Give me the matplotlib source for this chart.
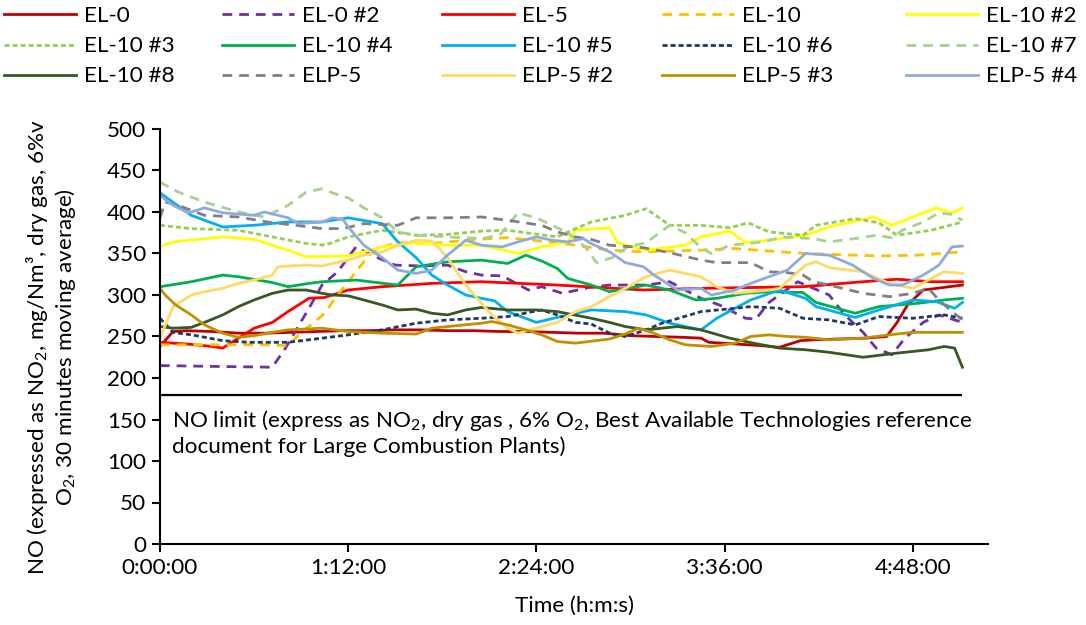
import matplotlib
matplotlib.use("Agg")
import matplotlib.pyplot as plt

plt.rcParams["font.family"] = ["Lato", "DejaVu Sans"]
plt.rcParams["mathtext.fontset"] = "custom"
plt.rcParams["mathtext.rm"] = "Lato"
plt.rcParams["mathtext.it"] = "Lato:italic"
plt.rcParams["mathtext.bf"] = "Lato:bold"

# time in minutes from start, NO in mg/Nm3 (30 min moving average)
t_el0 = [0, 5, 10, 20, 30, 40, 50, 60, 70, 80, 90, 100, 110, 120, 130, 140, 150, 160, 170, 180, 190, 200, 207, 210,
         220, 230, 237, 245, 250, 260, 270, 278, 282, 286, 292, 297, 307]
v_el0 = [238, 256, 257, 256, 254, 254, 255, 256, 257, 257, 258, 258, 257, 257, 256, 256, 255, 254, 254, 251, 250, 249,
         248, 243, 241, 239, 237, 245, 246, 247, 248, 250, 267, 288, 306, 308, 312]

t_el0_2 = [0, 20, 43, 48, 57, 62, 68, 75, 81, 90, 100, 110, 117, 123, 131, 141, 146, 154, 164, 172, 186, 195, 207, 214,
           224, 228, 233, 244, 256, 262, 269, 274, 280, 285, 292, 298, 307]
v_el0_2 = [215, 214, 213, 236, 284, 312, 328, 358, 348, 336, 335, 336, 328, 324, 323, 306, 310, 302, 309, 312, 312, 316,
           296, 288, 272, 271, 291, 316, 300, 276, 255, 236, 228, 248, 267, 276, 267]

t_el5 = [0, 10, 20, 24, 30, 36, 43, 49, 57, 63, 72, 85, 104, 123, 152, 185, 207, 246, 269, 282, 295, 307]
v_el5 = [243, 241, 238, 236, 248, 260, 267, 280, 296, 297, 306, 310, 314, 316, 312, 306, 308, 310, 316, 319, 316, 316]

t_el10 = [0, 20, 40, 49, 54, 59, 63, 67, 72, 76, 80, 85, 91, 104, 121, 133, 152, 172, 185, 207, 220, 233, 247, 275,
          290, 307]
v_el10 = [240, 240, 240, 239, 255, 267, 278, 296, 316, 332, 348, 358, 363, 362, 367, 369, 363, 354, 352, 354, 356, 353,
          350, 347, 348, 352]

t_el10_2 = [0, 5, 24, 36, 49, 56, 72, 85, 98, 110, 123, 137, 146, 156, 159, 172, 175, 186, 201, 207, 218, 224, 233,
            247, 256, 273, 280, 288, 297, 303, 307]
v_el10_2 = [358, 364, 370, 367, 354, 346, 347, 358, 363, 360, 360, 350, 358, 364, 378, 381, 363, 354, 360, 370, 377,
            363, 366, 372, 382, 394, 384, 394, 405, 399, 405]

t_el10_3 = [0, 12, 30, 43, 56, 63, 72, 85, 98, 110, 123, 133, 152, 159, 165, 178, 186, 195, 207, 218, 225, 233, 246,
            251, 266, 275, 282, 295, 307]
v_el10_3 = [384, 380, 378, 370, 362, 360, 370, 378, 372, 373, 377, 378, 370, 380, 388, 396, 404, 384, 384, 381, 387,
            376, 372, 384, 392, 387, 372, 378, 388]

t_el10_4 = [0, 12, 24, 30, 43, 49, 57, 62, 75, 91, 98, 110, 123, 133, 140, 146, 152, 156, 165, 172, 186, 195, 205,
            213, 224, 233, 246, 251, 266, 275, 290, 300, 307]
v_el10_4 = [310, 316, 324, 322, 315, 310, 314, 316, 318, 312, 334, 340, 342, 338, 348, 341, 332, 320, 312, 304, 312,
            306, 294, 296, 302, 304, 303, 291, 278, 286, 290, 294, 296]

t_el10_5 = [0, 12, 24, 36, 49, 62, 72, 85, 91, 98, 104, 110, 117, 123, 128, 133, 144, 152, 165, 178, 186, 195, 207,
            213, 220, 226, 237, 247, 251, 266, 275, 288, 297, 304, 307]
v_el10_5 = [423, 396, 382, 384, 388, 388, 393, 386, 364, 345, 324, 312, 300, 296, 293, 280, 267, 273, 282, 280, 276,
            266, 258, 272, 284, 294, 306, 296, 286, 273, 282, 294, 292, 284, 291]

t_el10_6 = [0, 5, 12, 24, 34, 49, 62, 72, 85, 98, 110, 123, 133, 146, 152, 159, 165, 172, 178, 186, 192, 207, 220,
            226, 237, 246, 256, 266, 275, 288, 300, 307]
v_el10_6 = [272, 255, 252, 245, 243, 243, 248, 252, 258, 266, 270, 272, 274, 282, 276, 267, 265, 254, 250, 258, 266,
            280, 284, 286, 284, 272, 270, 264, 274, 272, 276, 272]

t_el10_7 = [0, 7, 17, 30, 40, 49, 56, 62, 66, 72, 78, 85, 91, 98, 110, 123, 130, 137, 144, 150, 156, 163, 167, 173,
            179, 186, 195, 201, 207, 211, 218, 225, 231, 238, 250, 256, 266, 274, 280, 284, 292, 298, 303, 307]
v_el10_7 = [436, 424, 412, 400, 394, 408, 424, 428, 423, 417, 405, 393, 376, 372, 370, 368, 372, 399, 393, 384, 375,
            357, 339, 345, 358, 363, 384, 375, 357, 350, 360, 362, 364, 370, 368, 364, 368, 372, 369, 378, 388, 399,
            397, 390]

t_el10_8 = [0, 5, 12, 17, 24, 30, 36, 43, 49, 56, 62, 66, 72, 78, 85, 91, 98, 104, 110, 117, 123, 133, 144, 152, 165,
            172, 178, 186, 198, 207, 218, 227, 237, 247, 256, 269, 282, 294, 300, 304, 307]
v_el10_8 = [262, 260, 261, 267, 276, 286, 294, 302, 306, 306, 302, 300, 299, 294, 288, 282, 283, 278, 276, 282, 285,
            282, 282, 280, 272, 267, 262, 258, 262, 258, 248, 242, 236, 234, 231, 225, 230, 234, 238, 236, 213]

t_elp5 = [0, 2, 7, 12, 17, 30, 43, 52, 62, 70, 78, 91, 98, 110, 123, 133, 146, 152, 159, 165, 172, 185, 195, 207, 213,
          226, 233, 240, 246, 250, 256, 269, 279, 288, 294, 298, 303, 307]
v_elp5 = [393, 412, 408, 402, 396, 394, 387, 384, 380, 380, 386, 384, 393, 393, 394, 390, 384, 376, 370, 367, 360, 357,
          351, 342, 339, 339, 328, 327, 324, 316, 312, 302, 298, 302, 308, 294, 280, 270]

t_elp5_2 = [0, 5, 12, 17, 24, 30, 36, 43, 45, 55, 62, 72, 78, 85, 91, 98, 104, 108, 110, 117, 123, 127, 133, 137, 146,
            152, 159, 165, 172, 178, 186, 195, 201, 207, 213, 220, 233, 237, 247, 251, 256, 269, 279, 288, 294, 300,
            307]
v_elp5_2 = [248, 286, 300, 304, 308, 314, 318, 324, 334, 336, 335, 342, 348, 352, 360, 366, 365, 352, 345, 312, 290,
            276, 260, 254, 262, 267, 280, 286, 298, 308, 322, 330, 326, 322, 310, 302, 306, 308, 336, 340, 333, 328,
            314, 308, 318, 328, 326]

t_elp5_3 = [0, 2, 6, 12, 17, 24, 30, 36, 43, 49, 62, 72, 85, 98, 104, 110, 123, 127, 133, 140, 146, 152, 159, 172,
            178, 183, 189, 195, 201, 211, 220, 226, 233, 240, 247, 256, 269, 279, 288, 307]
v_elp5_3 = [308, 300, 288, 276, 264, 254, 249, 251, 255, 258, 260, 256, 254, 253, 260, 262, 266, 268, 264, 258, 252,
            244, 242, 247, 253, 260, 254, 246, 240, 238, 242, 250, 252, 250, 249, 246, 248, 252, 255, 255]

t_elp5_4 = [0, 5, 11, 17, 24, 36, 40, 49, 53, 62, 66, 70, 72, 78, 85, 91, 98, 104, 110, 117, 123, 131, 137, 144, 150,
            156, 162, 165, 172, 178, 185, 189, 198, 207, 211, 220, 226, 233, 240, 247, 256, 265, 273, 279, 284, 292,
            298, 303, 307]
v_elp5_4 = [420, 408, 399, 405, 399, 396, 400, 393, 386, 388, 393, 391, 382, 360, 345, 330, 326, 330, 348, 366, 360,
            358, 364, 370, 366, 364, 368, 362, 352, 339, 334, 324, 306, 308, 300, 306, 314, 322, 330, 350, 348, 336,
            320, 312, 312, 324, 336, 358, 359]

no_limit = 180
x_ticks = [0, 72, 144, 216, 288]
y_ticks = list(range(0, 501, 50))

LONG = (3.5, 2.5)
SHORT = (1.8, 1.1)
series = [
    ("EL-0", t_el0, v_el0, "#C00000", None),
    ("EL-0 #2", t_el0_2, v_el0_2, "#7030A0", LONG),
    ("EL-5", t_el5, v_el5, "#FF0000", None),
    ("EL-10", t_el10, v_el10, "#FFC000", LONG),
    ("EL-10 #2", t_el10_2, v_el10_2, "#FFFF00", None),
    ("EL-10 #3", t_el10_3, v_el10_3, "#92D050", SHORT),
    ("EL-10 #4", t_el10_4, v_el10_4, "#00B050", None),
    ("EL-10 #5", t_el10_5, v_el10_5, "#00B0F0", None),
    ("EL-10 #6", t_el10_6, v_el10_6, "#203864", SHORT),
    ("EL-10 #7", t_el10_7, v_el10_7, "#A9D18E", LONG),
    ("EL-10 #8", t_el10_8, v_el10_8, "#385723", None),
    ("ELP-5", t_elp5, v_elp5, "#808080", LONG),
    ("ELP-5 #2", t_elp5_2, v_elp5_2, "#FFD966", None),
    ("ELP-5 #3", t_elp5_3, v_elp5_3, "#BF9000", None),
    ("ELP-5 #4", t_elp5_4, v_elp5_4, "#8FAADC", None),
]

FS = 16.2

fig = plt.figure(figsize=(10.86, 6.25), dpi=100)
ax = fig.add_axes([0.1473, 0.1296, 0.7625, 0.664])

handles = []
for name, t, v, col, dash in series:
    if dash is None:
        ln, = ax.plot(t, v, color=col, lw=2.0, label=name)
    else:
        ln, = ax.plot(t, v, color=col, lw=2.0, ls="--", dashes=dash, label=name)
    handles.append(ln)

ax.hlines(no_limit, 0, max(t_el0), color="black", lw=1.6)
ax.text(4.5, 164, "NO limit (express as NO$_2$, dry gas , 6% O$_2$, Best Available Technologies reference\n"
        "document for Large Combustion Plants)", fontsize=FS, va="top", ha="left", linespacing=1.2)

ax.set_xlim(0, 316.8)
ax.set_ylim(0, 500)
ax.set_xticks(x_ticks)
ax.set_xticklabels(["%d:%02d:00" % (m // 60, m % 60) for m in x_ticks])
ax.set_yticks(y_ticks)
ax.spines["top"].set_visible(False)
ax.spines["right"].set_visible(False)
ax.spines["left"].set_linewidth(1.5)
ax.spines["bottom"].set_linewidth(1.5)
ax.tick_params(direction="out", length=6, width=1.5, labelsize=FS, pad=4)

ax.set_xlabel("Time (h:m:s)", fontsize=FS, labelpad=13)
fig.text(0.047, 0.445, "NO (expressed as NO$_2$, mg/Nm³, dry gas, 6%v\nO$_2$, 30 minutes moving average)",
         rotation=90, ha="center", va="center", multialignment="center", fontsize=FS, linespacing=1.2)

# legend: 5 columns, series listed row by row
col_x = [4, 222, 442, 662, 906]
for c, x0 in enumerate(col_x):
    idx = [c, c + 5, c + 10]
    fig.legend([handles[i] for i in idx], [series[i][0] for i in idx], loc="upper left",
               bbox_to_anchor=(x0 / 1086, 0.99), frameon=False, fontsize=FS,
               handlelength=3.2, handletextpad=0.35, labelspacing=0.45, borderaxespad=0.0, borderpad=0.0)

fig.savefig("out.png", dpi=100)
